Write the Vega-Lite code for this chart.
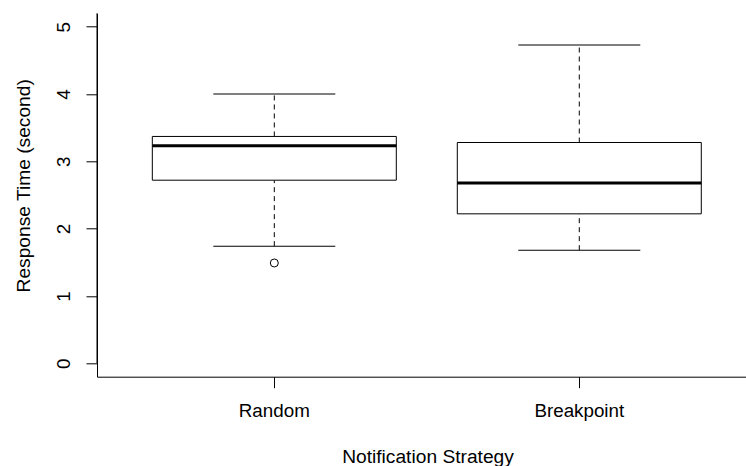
{
  "$schema": "https://vega.github.io/schema/vega-lite/v6.json",
  "width": 649,
  "height": 363.4,
  "autosize": {"type": "none"},
  "padding": {"left": 97, "top": 13.3, "right": 0, "bottom": 89.3},
  "background": "white",
  "config": {
    "view": {"stroke": null},
    "font": "Liberation Sans",
    "axis": {
      "domainColor": "black",
      "tickColor": "black",
      "labelColor": "black",
      "titleColor": "black",
      "labelFontSize": 18.8,
      "titleFontSize": 19.2,
      "titleFontWeight": "normal",
      "tickSize": 11,
      "grid": false
    }
  },
  "datasets": {
    "boxes": [
      {"strategy": "Random", "lower": 1.74, "q1": 2.72, "median": 3.23, "q3": 3.37, "upper": 4.0},
      {"strategy": "Breakpoint", "lower": 1.68, "q1": 2.22, "median": 2.68, "q3": 3.28, "upper": 4.73}
    ],
    "outliers": [
      {"strategy": "Random", "value": 1.49}
    ]
  },
  "data": {"name": "boxes"},
  "encoding": {
    "x": {
      "field": "strategy",
      "type": "nominal",
      "sort": ["Random", "Breakpoint"],
      "scale": {
        "type": "band",
        "domain": ["Random", "Breakpoint"],
        "paddingInner": 0.2,
        "paddingOuter": 0.164,
        "align": 0.553
      },
      "axis": {
        "title": "Notification Strategy",
        "labelAngle": 0,
        "labelPadding": 14,
        "titlePadding": 27,
        "titleX": 330.5
      }
    }
  },
  "layer": [
    {
      "mark": {"type": "rule", "color": "black", "strokeWidth": 1, "strokeDash": [5, 4]},
      "encoding": {
        "y": {
          "field": "q3",
          "type": "quantitative",
          "scale": {"domain": [-0.2, 5.2], "nice": false, "zero": false},
          "axis": {
            "title": "Response Time (second)",
            "values": [0, 1, 2, 3, 4, 5],
            "format": "d",
            "labelAngle": -90,
            "labelPadding": 13,
            "titlePadding": 21,
            "titleY": 172
          }
        },
        "y2": {"field": "upper"}
      }
    },
    {
      "mark": {"type": "rule", "color": "black", "strokeWidth": 1, "strokeDash": [5, 4]},
      "encoding": {
        "y": {"field": "lower", "type": "quantitative"},
        "y2": {"field": "q1"}
      }
    },
    {
      "mark": {"type": "tick", "color": "black", "size": 122, "thickness": 1, "opacity": 1},
      "encoding": {"y": {"field": "upper", "type": "quantitative"}}
    },
    {
      "mark": {"type": "tick", "color": "black", "size": 122, "thickness": 1, "opacity": 1},
      "encoding": {"y": {"field": "lower", "type": "quantitative"}}
    },
    {
      "mark": {"type": "bar", "fill": "white", "stroke": "black", "strokeWidth": 1},
      "encoding": {
        "y": {"field": "q1", "type": "quantitative"},
        "y2": {"field": "q3"}
      }
    },
    {
      "mark": {"type": "tick", "color": "black", "size": 244, "thickness": 3, "opacity": 1},
      "encoding": {"y": {"field": "median", "type": "quantitative"}}
    },
    {
      "data": {"name": "outliers"},
      "mark": {"type": "point", "shape": "circle", "filled": false, "stroke": "black", "strokeWidth": 1, "size": 64, "opacity": 1},
      "encoding": {"y": {"field": "value", "type": "quantitative"}}
    },
    {
      "data": {"values": [{}]},
      "mark": {"type": "rule", "color": "black", "strokeWidth": 1},
      "encoding": {"y": {"datum": 5.2}}
    }
  ]
}
